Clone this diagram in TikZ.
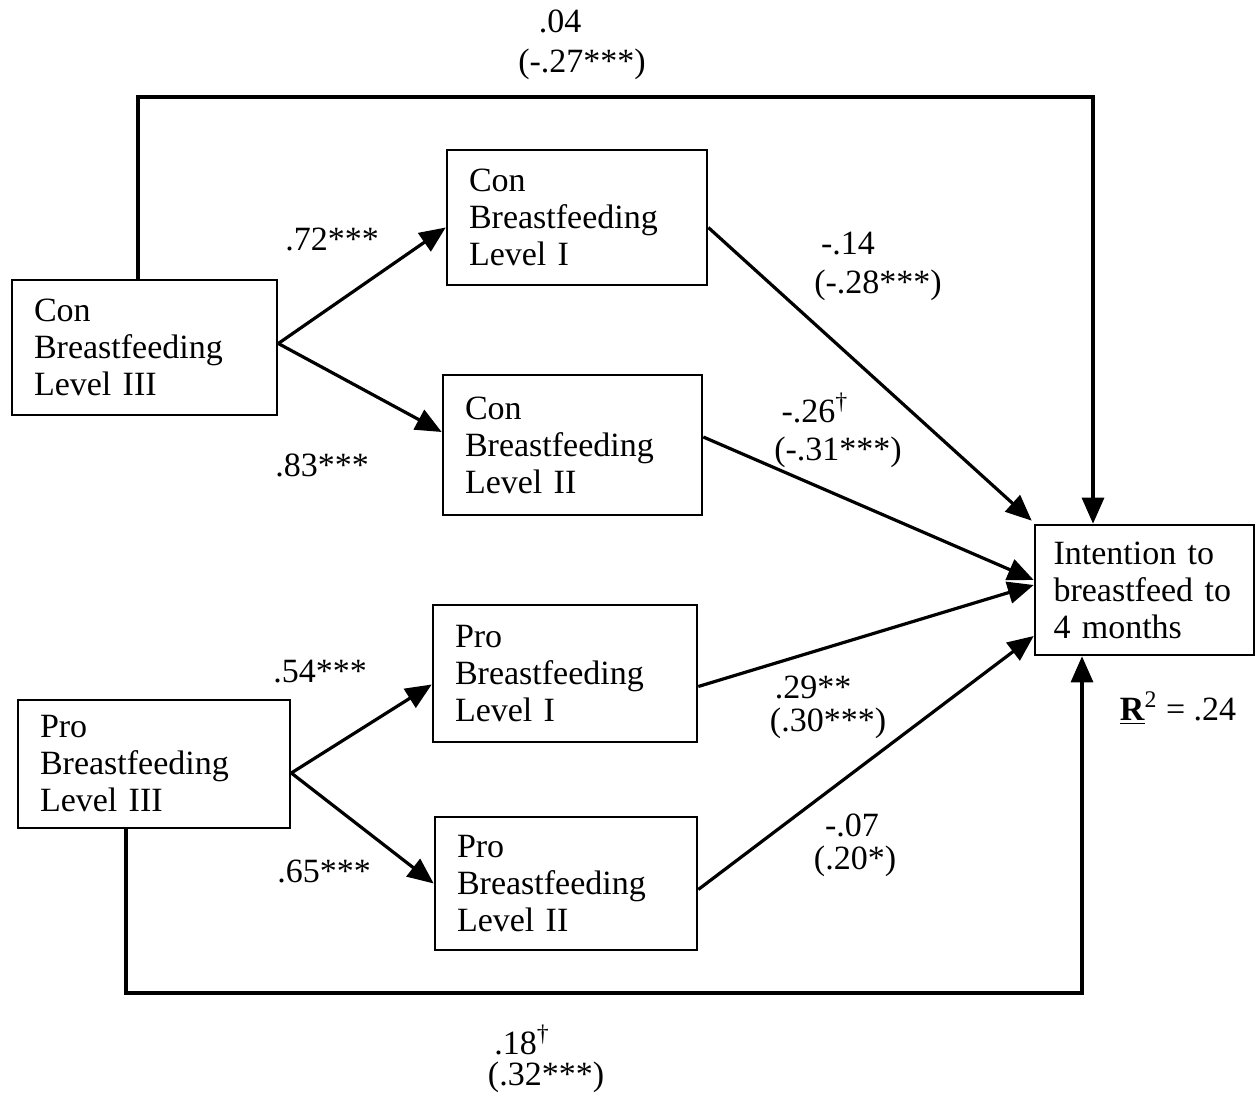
\documentclass[tikz,border=0pt]{standalone}
\usepackage{fontspec}
\setmainfont{Liberation Serif}
\usetikzlibrary{arrows.meta}
\begin{document}
\begin{tikzpicture}[x=0.5pt,y=-0.5pt,
  every node/.style={font=\fontsize{17}{18.5}\selectfont},
  box/.style={draw,line width=1.3pt,align=left,inner xsep=11pt,inner ysep=0pt,minimum height=#1},
  link/.style={line width=1.6pt,-{Triangle[length=13pt,width=11pt]}},
  lbl/.style={inner sep=0pt}]
\useasboundingbox (0,0) rectangle (1256,1095);

% variables
\node[box=67.5pt,text width=110.5pt] (c3) at (144.5,347.5) {Con\\Breastfeeding\\Level III};
\node[box=67.5pt,text width=108pt] (c1) at (577,217.5) {Con\\Breastfeeding\\Level I};
\node[box=70pt,text width=107.5pt] (c2) at (572.5,445) {Con\\Breastfeeding\\Level II};
\node[box=65pt,text width=91pt,inner xsep=9.25pt] (it) at (1144.5,590) {Intention to\\breastfeed to\\4 months};
\node[box=68.5pt,text width=110pt] (p1) at (565,673.5) {Pro\\Breastfeeding\\Level I};
\node[box=64pt,text width=114pt] (p3) at (154,764) {Pro\\Breastfeeding\\Level III};
\node[box=66.5pt,text width=109pt] (p2) at (566,883.5) {Pro\\Breastfeeding\\Level II};

% bends of the direct paths
\coordinate (ta) at (138,97);
\coordinate (tb) at (1093,97);
\coordinate (ba) at (126,993);
\coordinate (bb) at (1082,993);

% paths
\draw[link] ([yshift=2pt]c3.east) -- ([yshift=-5pt]c1.west);
\draw[link] ([yshift=2pt]c3.east) -- ([yshift=6.5pt]c2.west);
\draw[link] ([yshift=-4.5pt]p3.east) -- ([yshift=-5.5pt]p1.west);
\draw[link] ([yshift=-4.5pt]p3.east) -- (p2.west);
\draw[link] ([yshift=-5pt]c1.east) -- ([xshift=-1pt,yshift=1.5pt]it.north west);
\draw[link] ([yshift=4pt]c2.east) -- ([yshift=5pt]it.west);
\draw[link] ([yshift=-6.5pt]p1.east) -- ([yshift=2.5pt]it.west);
\draw[link] ([yshift=-3pt]p2.east) -- ([yshift=-23pt]it.west);
\draw[link] (c3.north -| ta) -- (ta) -- (tb) -- (it.north -| tb);
\draw[link] (p3.south -| ba) -- (ba) -- (bb) -- (it.south -| bb);

% coefficients
\node[lbl] (l1a) at (560,21) {.04};
\node[lbl] (l1b) at (582,64) {(-.27***)};
\node[lbl] (l2) at (332,239) {.72***};
\node[lbl] (l3) at (322,465) {.83***};
\node[lbl] (l4a) at (848,244) {-.14};
\node[lbl] (l4b) at (878,285) {(-.28***)};
\node[lbl] (l5a) at (815,408) {-.26\textsuperscript{\textdagger}};
\node[lbl] (l5b) at (838,452) {(-.31***)};
\node[lbl] (l6) at (320,672) {.54***};
\node[lbl] (l7) at (324,871) {.65***};
\node[lbl] (l8a) at (813,687) {.29**};
\node[lbl] (l8b) at (828,723) {(.30***)};
\node[lbl] (l9a) at (852,825) {-.07};
\node[lbl] (l9b) at (855,861) {(.20*)};
\node[lbl] (r2) at (1178,708) {\underline{\textbf{R}}\textsuperscript{2} = .24};
\node[lbl] (l10a) at (522,1040) {.18\textsuperscript{\textdagger}};
\node[lbl] (l10b) at (546,1077) {(.32***)};
\end{tikzpicture}
\end{document}
